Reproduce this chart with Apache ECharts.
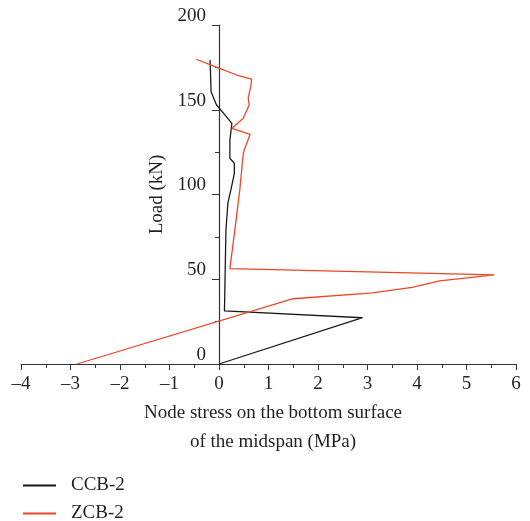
<!DOCTYPE html>
<html>
<head>
<meta charset="utf-8">
<script src="https://cdn.jsdelivr.net/npm/echarts@6/dist/echarts.min.js"></script>
<style>
  html, body { margin: 0; padding: 0; background: #fff; }
  #main { width: 530px; height: 521px; }
</style>
</head>
<body>
<div id="main"></div>
<script>
var seriesNames = ['CCB-2', 'ZCB-2'];
// [stress (MPa), load (kN)]
var ccb2 = [
    [0, 0], [2.9, 27.3], [0.11, 31.3], [0.14, 79], [0.18, 95], [0.24, 102.7],
    [0.31, 112.5], [0.31, 118.4], [0.22, 121.4], [0.22, 132], [0.24, 137],
    [0.26, 142], [0.09, 148], [-0.05, 152.8], [-0.16, 160.6], [-0.18, 179.4]
];
var zcb2 = [
    [-2.87, 0], [1.5, 38.5], [3.1, 42], [3.9, 45.2], [4.46, 49], [5.56, 52.6],
    [0.22, 56.3], [0.32, 79], [0.42, 102.7], [0.49, 124], [0.51, 126.3],
    [0.63, 135.5], [0.26, 139], [0.49, 145], [0.61, 152.8], [0.59, 156.8],
    [0.64, 163.6], [0.66, 168], [0.36, 170.5], [0.05, 174], [-0.46, 179.8]
];

var font = '"Liberation Serif", "DejaVu Serif", serif';
var axisColor = '#333';
var textColor = '#231f20';

var chart = echarts.init(document.getElementById('main'));
var option = {
    backgroundColor: '#fff',
    animation: false,
    textStyle: { fontFamily: font },
    grid: { left: 21, right: 14, top: 25, bottom: 157, containLabel: false, outerBoundsMode: 'none' },
    legend: {
        data: seriesNames,
        orient: 'vertical',
        left: 22,
        top: 476,
        height: 50,
        padding: 0,
        itemWidth: 33,
        itemHeight: 14,
        itemGap: 9,
        itemStyle: { opacity: 0 },
        textStyle: { fontFamily: font, fontSize: 19, lineHeight: 18, color: textColor, padding: [0, 0, 0, 10] }
    },
    xAxis: {
        type: 'value',
        min: -4,
        max: 6,
        interval: 1,
        name: 'Node stress on the bottom surface\nof the midspan (MPa)',
        nameLocation: 'middle',
        nameGap: 30,
        nameTextStyle: { fontFamily: font, fontSize: 19, color: textColor, lineHeight: 29, padding: [0, 0, 0, 9] },
        axisLine: { onZero: false, lineStyle: { color: axisColor, width: 1.2 } },
        axisTick: { show: true, length: 6, lineStyle: { color: axisColor } },
        minorTick: { show: true, splitNumber: 2, length: 4, lineStyle: { color: axisColor } },
        splitLine: { show: false },
        axisLabel: {
            fontFamily: font, fontSize: 19, color: textColor, margin: 11,
            formatter: function (v) { return String(v).replace('-', '\u2013'); }
        }
    },
    yAxis: {
        type: 'value',
        min: 0,
        max: 200,
        interval: 50,
        offset: -198,
        name: 'Load (kN)',
        nameLocation: 'middle',
        nameGap: 48,
        nameTextStyle: { fontFamily: font, fontSize: 19, color: textColor },
        axisLine: { show: true, onZero: false, lineStyle: { color: axisColor, width: 1.2 } },
        axisTick: { show: true, length: 7, lineStyle: { color: axisColor } },
        minorTick: { show: true, splitNumber: 2, length: 4, lineStyle: { color: axisColor } },
        splitLine: { show: false },
        axisLabel: {
            fontFamily: font, fontSize: 19, color: textColor, margin: 13,
            verticalAlign: 'bottom', lineHeight: 18
        }
    },
    series: [
        {
            name: seriesNames[0],
            type: 'line',
            data: ccb2,
            symbol: 'none',
            lineStyle: { color: '#1a1a1a', width: 1.3 },
            itemStyle: { color: '#1a1a1a' }
        },
        {
            name: seriesNames[1],
            type: 'line',
            data: zcb2,
            symbol: 'none',
            lineStyle: { color: '#ef4526', width: 1.3 },
            itemStyle: { color: '#ef4526' }
        }
    ]
};
chart.setOption(option);
</script>
</body>
</html>
